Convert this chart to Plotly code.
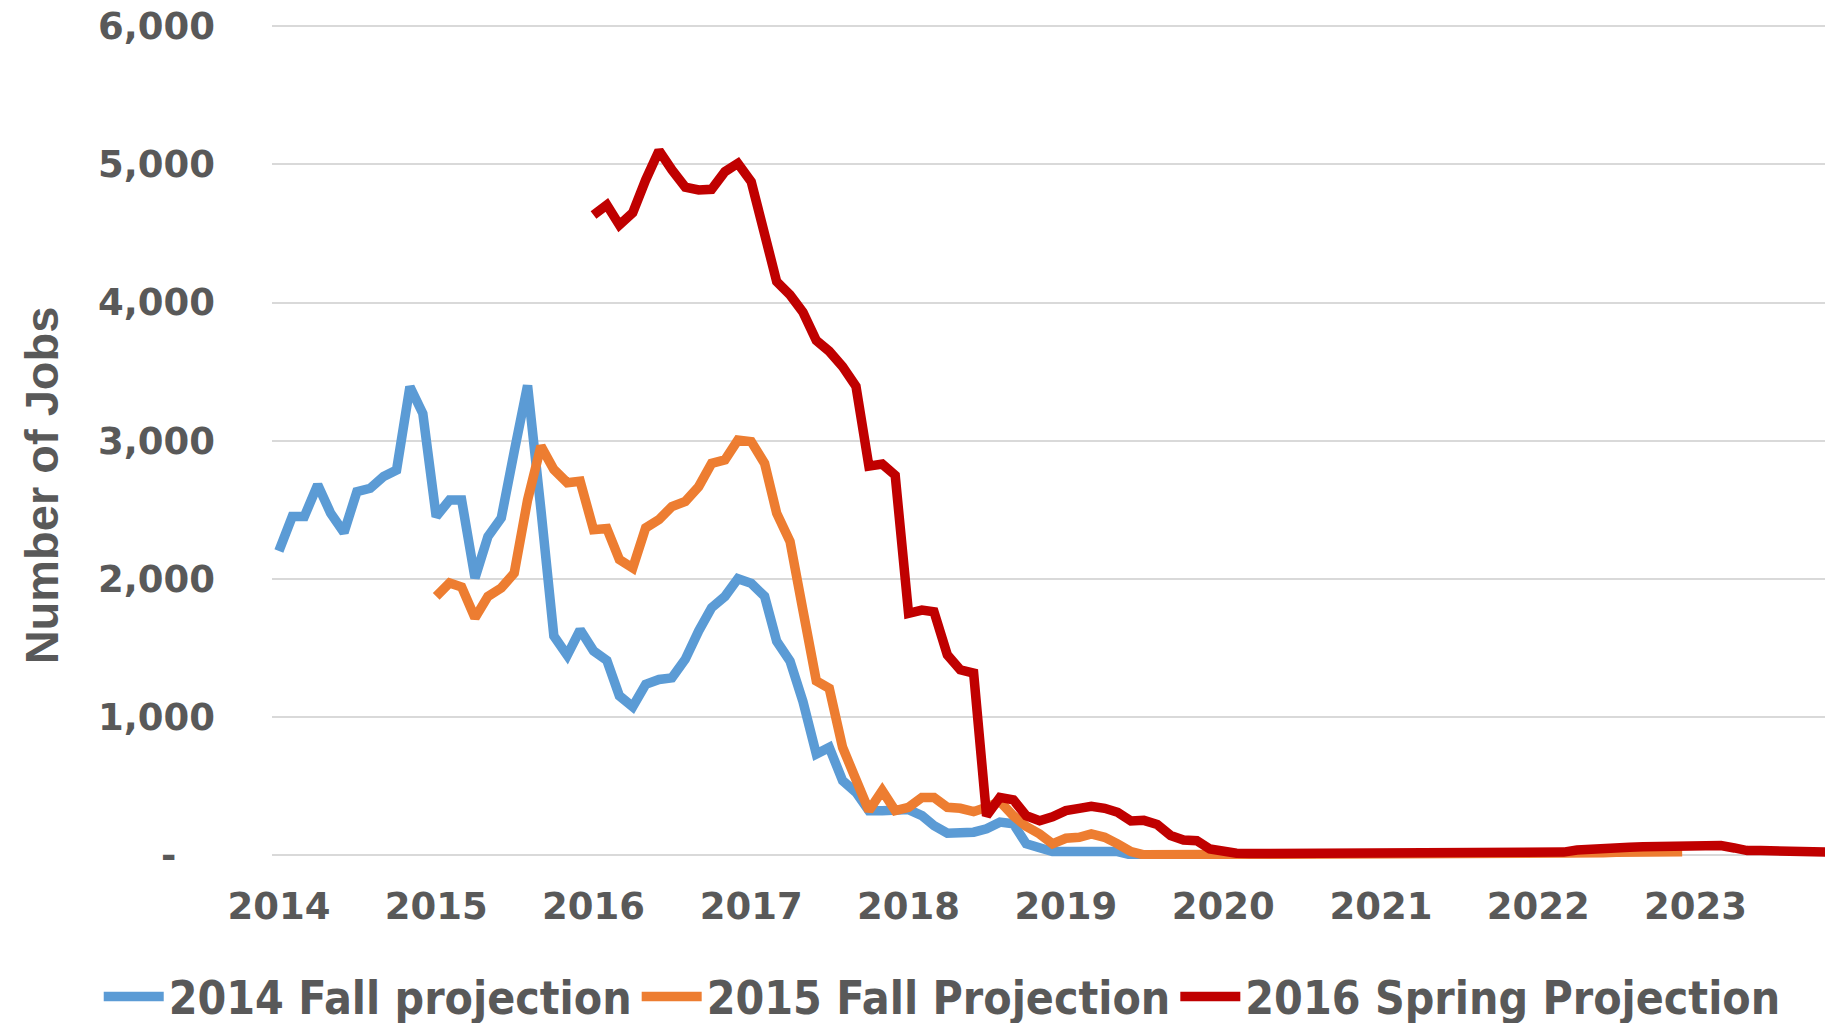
import pandas as pd
import plotly.graph_objects as go

# monthly values
fall_2014 = [2200, 2450, 2450, 2680, 2475, 2335, 2630, 2655, 2740, 2787,
             3390, 3196, 2450, 2570, 2570, 2005, 2305, 2440, 2920, 3400,
             2500, 1585, 1445, 1630, 1477, 1408, 1152, 1073, 1235, 1270,
             1282, 1417, 1622, 1790, 1872, 2000, 1966, 1872, 1547, 1403,
             1110, 730, 778, 537, 453, 320, 320, 320, 328, 284,
             212, 157, 164, 164, 189, 237, 225, 80, 51, 24,
             24, 24, 24, 24, 24, 0, 0, 0, 0]

fall_2015 = [1872, 1969, 1940, 1716, 1872, 1933, 2041, 2570, 2960, 2791,
             2695, 2706, 2355, 2364, 2138, 2078, 2368, 2428, 2523, 2559,
             2667, 2835, 2860, 3004, 2993, 2835, 2474, 2270, 1770, 1260,
             1206, 778, 545, 320, 465, 320, 344, 416, 416, 344,
             337, 313, 344, 386, 283, 206, 152, 80, 120, 127,
             152, 127, 80, 24, 0, 0, 0, 0, 0, 0,
             0, 0, 0, 0, 0, 0, 0, 0, 0, 0,
             0, 0, 0, 0, 0, 0, 0, 0, 0, 0,
             0, 0, 0, 0, 0, 0, 10, 12, 15, 15,
             18, 18, 20, 20, 20, 22]

spring_2016 = [4634, 4707, 4562, 4651, 4888, 5100, 4960, 4835, 4815, 4820,
               4948, 5008, 4875, 4526, 4152, 4056, 3930, 3725, 3647, 3536,
               3394, 2815, 2830, 2749, 1749, 1773, 1761, 1448, 1340, 1316,
               283, 416, 399, 283, 247, 276, 320, 337, 352, 337,
               308, 245, 250, 220, 140, 108, 102, 43, 19, 12,
               10, 10, 10, 10, 10, 10, 10, 10, 10, 10,
               10, 10, 10, 10, 10, 10, 10, 10, 10, 10,
               10, 10, 10, 15, 20, 35, 43, 45, 50, 55,
               58, 60, 62, 65, 67, 67, 67, 50, 31, 31,
               31, 19, 19, 19, 19, 19]

tick_dates = ["2014-01-01", "2015-01-01", "2016-01-01", "2017-01-01", "2018-01-01",
              "2019-01-01", "2020-01-01", "2021-01-01", "2022-01-01", "2023-01-01"]
year_labels = ["2014", "2015", "2016", "2017", "2018",
               "2019", "2020", "2021", "2022", "2023"]
y_ticks = [0, 1000, 2000, 3000, 4000, 5000, 6000]
y_labels = ["-\u00a0\u00a0\u00a0", "1,000", "2,000", "3,000", "4,000", "5,000", "6,000"]

series = [
    ("2014 Fall projection", "2014-01-01", fall_2014, "#5B9BD5"),
    ("2015 Fall Projection", "2015-01-01", fall_2015, "#ED7D31"),
    ("2016 Spring Projection", "2016-01-01", spring_2016, "#C00000"),
]

grey = "#595959"
tick_font = dict(family="DejaVu Sans", size=37, color=grey, weight="bold")

fig = go.Figure()
for name, start, vals, color in series:
    dates = pd.date_range(start, periods=len(vals), freq="MS")
    fig.add_trace(go.Scatter(x=dates, y=vals, mode="lines", name=name,
                             line=dict(color=color, width=9.5)))

# the page body adds an 8px margin, so the figure is 8px smaller than the window
fig.update_layout(
    width=1825, height=1015,
    margin=dict(l=264, r=0, t=17, b=164, autoexpand=False),
    plot_bgcolor="white", paper_bgcolor="white",
    legend=dict(orientation="h", xref="paper", yref="paper",
                x=-0.111, y=-0.165, xanchor="left", yanchor="middle",
                itemwidth=60,
                font=dict(family="DejaVu Sans Condensed", size=46, color=grey, weight="bold")),
    annotations=[dict(text="Number of Jobs", textangle=-90, showarrow=False,
                      xref="paper", yref="paper", x=-0.148, y=0.448,
                      xanchor="center", yanchor="middle",
                      font=dict(family="Liberation Sans", size=47,
                                color=grey, weight="bold"))],
)

fig.update_xaxes(range=["2013-12-16", "2023-11-16"], tickvals=tick_dates, ticktext=year_labels,
                 showgrid=False, showline=False, zeroline=False, ticks="",
                 tickfont=tick_font, ticklabelstandoff=22, ticklabeloverflow="allow")
fig.update_yaxes(range=[-30, 6010], tickvals=y_ticks, ticktext=y_labels,
                 showgrid=True, gridcolor="#D9D9D9", gridwidth=2, zeroline=False,
                 showline=False, ticks="", tickfont=tick_font, ticklabelstandoff=56,
                 ticklabeloverflow="allow")

fig.write_html("out.html")
